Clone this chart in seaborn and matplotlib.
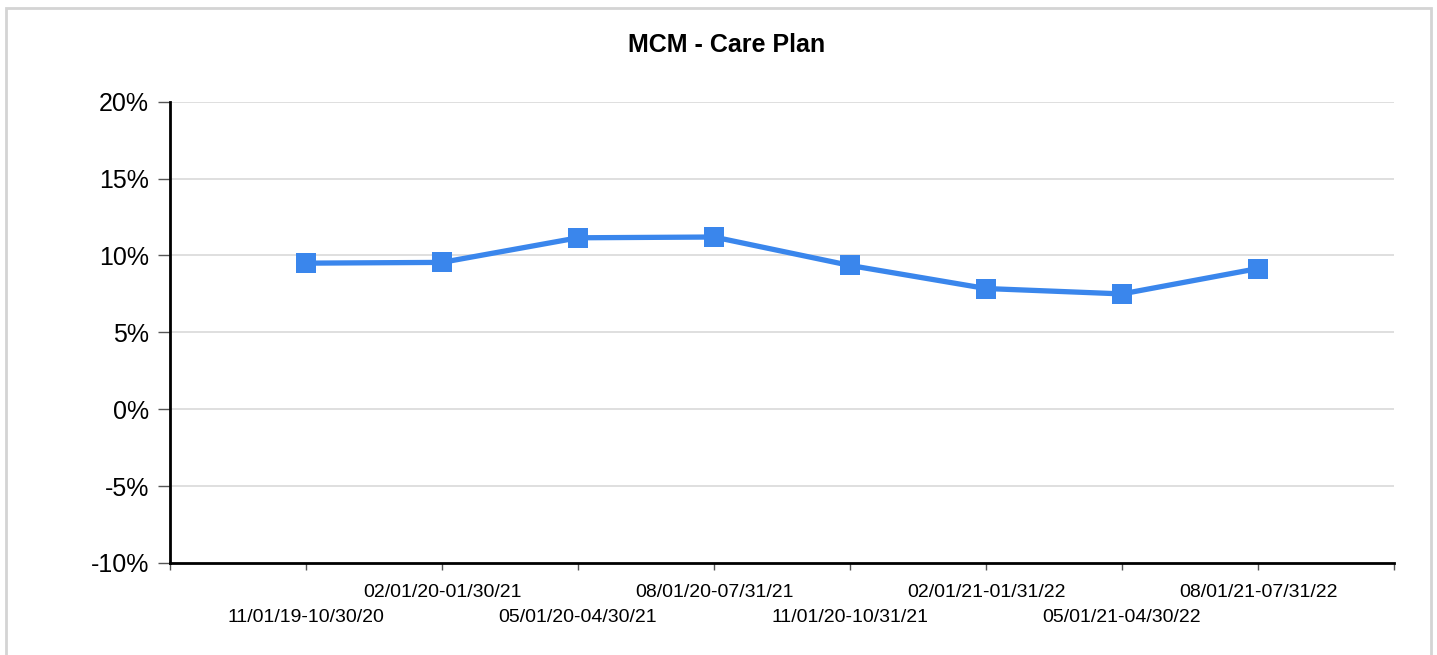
import matplotlib
matplotlib.use("Agg")
import matplotlib.pyplot as plt
import seaborn as sns
import pandas as pd
from matplotlib.patches import Rectangle
from matplotlib.ticker import FuncFormatter

# Rolling 12-month windows and the care plan rate for each
periods = [
    '11/01/19-10/30/20', '02/01/20-01/30/21', '05/01/20-04/30/21',
    '08/01/20-07/31/21', '11/01/20-10/31/21', '02/01/21-01/31/22',
    '05/01/21-04/30/22', '08/01/21-07/31/22',
]
care_plan_pct = [9.5, 9.55, 11.15, 11.2, 9.35, 7.85, 7.5, 9.15]
y_ticks = [-10, -5, 0, 5, 10, 15, 20]

df = pd.DataFrame({'pos': range(1, len(periods) + 1), 'pct': care_plan_pct})

sns.set_theme(style='white')
plt.rcParams['font.family'] = ['Liberation Sans', 'DejaVu Sans']
plt.rcParams['text.color'] = 'black'
plt.rcParams['xtick.color'] = 'black'
plt.rcParams['ytick.color'] = 'black'

W, H = 1437, 655
fig = plt.figure(figsize=(W / 100, H / 100), dpi=100)
ax = fig.add_axes([170 / W, (H - 563) / H, (1394 - 170) / W, (563 - 101.7) / H])

# light frame around the whole chart
fig.patches.append(Rectangle((6 / W, -0.02), 1425 / W, 1 - 8 / H + 0.02,
                             transform=fig.transFigure, fill=False,
                             edgecolor='#d4d4d4', linewidth=2))

for v in y_ticks[1:]:
    ax.axhline(v, color='#d9d9d9', linewidth=1.2, zorder=0)

sns.lineplot(data=df, x='pos', y='pct', ax=ax, color='#3a86ec', linewidth=3.8,
             marker='s', markersize=14.5, markeredgewidth=0, zorder=3)

ax.set_xlim(0, len(periods) + 1)
ax.set_ylim(-10, 20)
ax.set_yticks(y_ticks)
ax.yaxis.set_major_formatter(FuncFormatter(lambda v, _: f'{v:.0f}%'))

ax.set_xticks(range(len(periods) + 2))
ax.set_xticklabels([''] + periods + [''], fontsize=14)

ax.tick_params(axis='y', labelsize=18, length=9, width=1, color='#555555',
               labelcolor='black', direction='out', pad=6, left=True)
ax.tick_params(axis='x', length=5, width=1, color='#555555', labelcolor='black',
               direction='out', pad=10, bottom=True)

# staggered period labels: every other one sits on a second row
for i, tick in enumerate(ax.xaxis.get_major_ticks()):
    if i % 2 == 1:
        tick.set_pad(28)

ax.set_xlabel('')
ax.set_ylabel('')

sns.despine(ax=ax)
for side in ['left', 'bottom']:
    ax.spines[side].set_color('black')
    ax.spines[side].set_linewidth(2)

fig.text(727 / W, 1 - 45 / H, 'MCM - Care Plan', ha='center', va='center',
         fontsize=18, fontweight='bold', color='black')

fig.savefig('out.png', dpi=100, facecolor='white')
